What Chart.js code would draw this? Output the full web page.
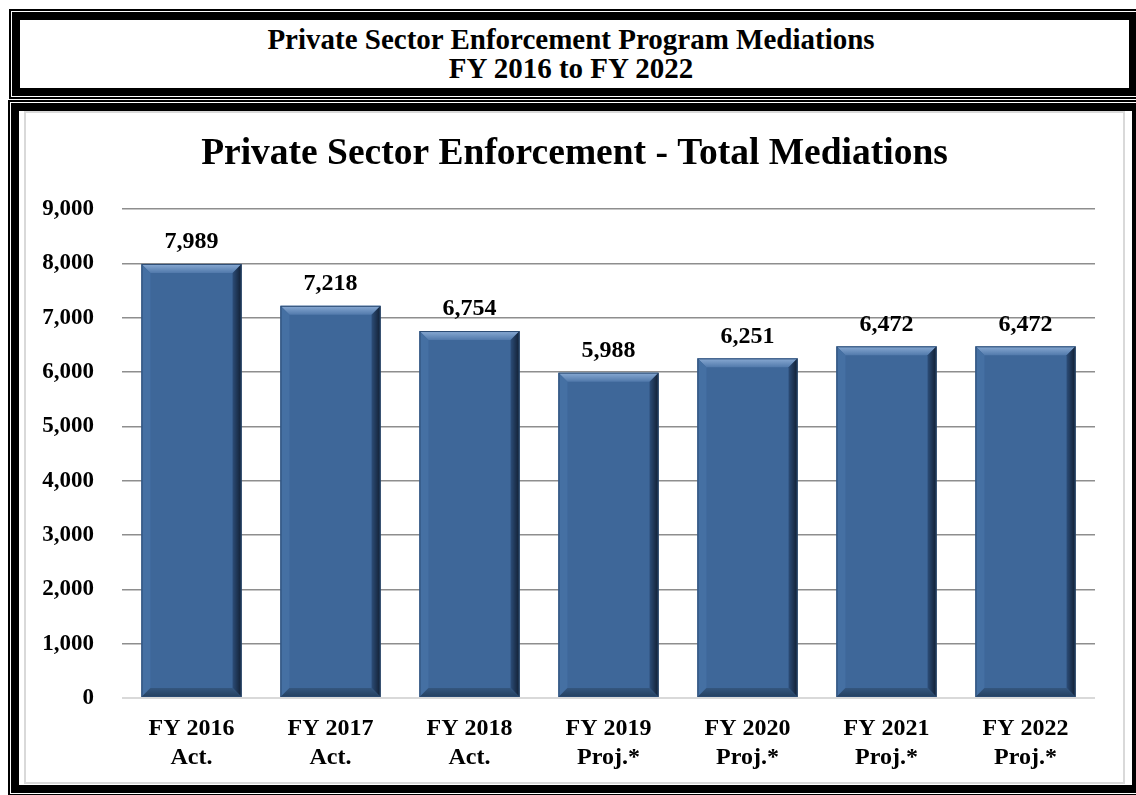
<!DOCTYPE html>
<html>
<head>
<meta charset="utf-8">
<title>Private Sector Enforcement Program Mediations</title>
<script src="https://cdn.jsdelivr.net/npm/chart.js@4/dist/chart.umd.min.js"></script>
<style>
    body {
        margin: 0;
        width: 1136px;
        height: 795px;
        overflow: hidden;
        position: relative;
        background: #fff;
        font-family: "Liberation Serif", "Times New Roman", serif;
    }

    .box-outer {
        position: absolute;
        border: 2px solid #000;
        padding: 1px;
        background: #fff;
    }

    .box-inner {
        border: 8px solid #000;
        background: #fff;
        position: relative;
    }

    #headerOuter {
        left: 9px;
        top: 9px;
    }

    #headerInner {
        width: 1109px;
        height: 68px;
        box-sizing: content-box;
    }

    .header-text {
        text-align: center;
        font-weight: bold;
        font-size: 29px;
        line-height: 29px;
        padding-top: 5px;
        padding-right: 7px;
    }

    #chartOuter {
        left: 8px;
        top: 100px;
    }

    #chartInner {
        width: 1113px;
        height: 674px;
    }

    .chart-frame {
        position: absolute;
        left: 24px;
        top: 111px;
        width: 1101px;
        height: 673px;
        box-sizing: border-box;
        border: 2px solid #d9d9d9;
        background: #fff;
    }

    #mediationChart {
        display: block;
    }
</style>
</head>
<body>

<div class="box-outer" id="headerOuter">
    <div class="box-inner" id="headerInner">
        <div class="header-text">Private Sector Enforcement Program Mediations<br>FY 2016 to FY 2022</div>
    </div>
</div>

<div class="box-outer" id="chartOuter">
    <div class="box-inner" id="chartInner"></div>
</div>

<div class="chart-frame">
    <canvas id="mediationChart" width="1097" height="669"></canvas>
</div>

<script>
// DATA

const fiscalYears = ['FY 2016', 'FY 2017', 'FY 2018', 'FY 2019', 'FY 2020', 'FY 2021', 'FY 2022'];
const yearTypes = ['Act.', 'Act.', 'Act.', 'Proj.*', 'Proj.*', 'Proj.*', 'Proj.*'];
const mediations = [7989, 7218, 6754, 5988, 6251, 6472, 6472];

const yMin = 0;
const yMax = 9000;
const yStep = 1000;

const serif = '"Liberation Serif", "Times New Roman", serif';

// two line category labels
const categoryLabels = fiscalYears.map(function (fy, i) {
    return [fy, yearTypes[i]];
});

function formatNumber(n) {
    return n.toLocaleString('en-US');
}

// BEVEL PLUGIN (gives the bars the raised look)

const bevelPlugin = {
    id: 'bevel',
    afterDatasetsDraw(chart) {
        const ctx = chart.ctx;
        const meta = chart.getDatasetMeta(0);
        const b = 9;

        meta.data.forEach(function (bar) {
            const p = bar.getProps(['x', 'y', 'base', 'width'], true);
            const left = p.x - p.width / 2;
            const right = p.x + p.width / 2;
            const top = p.y;
            const bottom = p.base;

            ctx.save();

            // top
            let g = ctx.createLinearGradient(0, top, 0, top + b);
            g.addColorStop(0, '#8aabd4');
            g.addColorStop(1, '#5179ab');
            ctx.fillStyle = g;
            ctx.beginPath();
            ctx.moveTo(left, top);
            ctx.lineTo(right, top);
            ctx.lineTo(right - b, top + b);
            ctx.lineTo(left + b, top + b);
            ctx.closePath();
            ctx.fill();

            // left
            ctx.fillStyle = '#4570a3';
            ctx.beginPath();
            ctx.moveTo(left, top);
            ctx.lineTo(left + b, top + b);
            ctx.lineTo(left + b, bottom - b);
            ctx.lineTo(left, bottom);
            ctx.closePath();
            ctx.fill();

            // right
            g = ctx.createLinearGradient(right - b, 0, right, 0);
            g.addColorStop(0, '#2c4d78');
            g.addColorStop(1, '#111e31');
            ctx.fillStyle = g;
            ctx.beginPath();
            ctx.moveTo(right, top);
            ctx.lineTo(right, bottom);
            ctx.lineTo(right - b, bottom - b);
            ctx.lineTo(right - b, top + b);
            ctx.closePath();
            ctx.fill();

            // bottom
            g = ctx.createLinearGradient(0, bottom - b, 0, bottom);
            g.addColorStop(0, '#34567f');
            g.addColorStop(1, '#24405f');
            ctx.fillStyle = g;
            ctx.beginPath();
            ctx.moveTo(left, bottom);
            ctx.lineTo(right, bottom);
            ctx.lineTo(right - b, bottom - b);
            ctx.lineTo(left + b, bottom - b);
            ctx.closePath();
            ctx.fill();

            // thin dark outline
            ctx.strokeStyle = '#2a4a72';
            ctx.lineWidth = 1;
            ctx.strokeRect(left + 0.5, top + 0.5, p.width - 1, bottom - top - 1);

            ctx.restore();
        });
    }
};

// VALUE LABELS ABOVE BARS

const valueLabelPlugin = {
    id: 'valueLabels',
    afterDatasetsDraw(chart) {
        const ctx = chart.ctx;
        const meta = chart.getDatasetMeta(0);

        ctx.save();
        ctx.font = 'bold 24px ' + serif;
        ctx.fillStyle = '#000';
        ctx.textAlign = 'center';
        ctx.textBaseline = 'middle';

        meta.data.forEach(function (bar, i) {
            ctx.fillText(formatNumber(mediations[i]), bar.x, bar.y - 22);
        });
        ctx.restore();
    }
};

// BAR CHART

const chartEl = document.getElementById('mediationChart');

const data = {
    labels: categoryLabels,
    datasets: [{
        label: 'Total Mediations',
        data: mediations,
        backgroundColor: '#3e6799',
        borderWidth: 0,
        barPercentage: 0.72,
        categoryPercentage: 1
    }]
};

const config = {
    type: 'bar',
    data: data,
    plugins: [bevelPlugin, valueLabelPlugin],
    options: {
        responsive: false,
        devicePixelRatio: 1,
        animation: false,
        layout: {
            padding: { left: 0, right: 0, top: 0, bottom: 10 }
        },
        plugins: {
            legend: { display: false },
            tooltip: { enabled: false },
            title: {
                display: true,
                text: 'Private Sector Enforcement - Total Mediations',
                color: '#000',
                font: { family: serif, size: 37.5, weight: 'bold', lineHeight: 1.2 },
                padding: { top: 19, bottom: 32 }
            }
        },
        scales: {
            x: {
                afterFit(scale) {
                    scale.height = 74;
                },
                grid: { display: false, drawTicks: false },
                border: { display: false },
                ticks: {
                    color: '#000',
                    padding: 16,
                    maxRotation: 0,
                    autoSkip: false,
                    font: { family: serif, size: 24, weight: 'bold', lineHeight: 1.22 }
                }
            },
            y: {
                min: yMin,
                max: yMax,
                afterFit(scale) {
                    scale.width = 96;
                },
                grid: {
                    drawTicks: false,
                    color: function (c) {
                        return c.tick && c.tick.value === 0 ? '#d9d9d9' : '#8e8e8e';
                    },
                    lineWidth: function (c) {
                        return c.tick && c.tick.value === 0 ? 2 : 1.5;
                    }
                },
                border: { display: false },
                ticks: {
                    stepSize: yStep,
                    color: '#000',
                    padding: 28,
                    font: { family: serif, size: 23, weight: 'bold' },
                    callback: function (value) {
                        return formatNumber(value);
                    }
                }
            },
            // empty right axis, only keeps a margin so the title stays centred on the canvas
            yRight: {
                position: 'right',
                min: yMin,
                max: yMax,
                afterFit(scale) {
                    scale.width = 28;
                },
                grid: { display: false, drawTicks: false },
                border: { display: false },
                ticks: { display: false }
            }
        }
    }
};

const mediationChart = new Chart(chartEl, config);
</script>
</body>
</html>
